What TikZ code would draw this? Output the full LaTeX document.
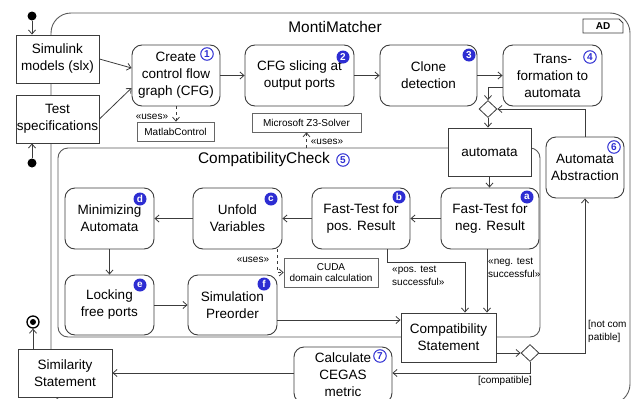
\documentclass[tikz,border=0pt]{standalone}
\usepackage{fontspec}
\setmainfont{Liberation Sans}
\usetikzlibrary{arrows.meta,calc,shapes.geometric}
\definecolor{bl}{RGB}{45,45,210}
\definecolor{ln}{RGB}{60,60,60}
\tikzset{
  mainf/.style={font=\fontsize{13.5}{17}\selectfont},
  smallf/.style={font=\fontsize{10}{13}\selectfont},
  act/.style={draw=ln, line width=0.9pt, fill=white, rounded corners=10pt, align=center, mainf, inner sep=1pt},
  obj/.style={draw=ln, line width=0.9pt, fill=white, align=center, mainf, inner sep=1pt},
  sobj/.style={draw=gray!80!black, line width=0.7pt, fill=white, align=center, smallf, inner sep=1pt},
  arr/.style={draw=ln, line width=0.8pt, -{Straight Barb[length=4pt,width=7pt]}},
  darr/.style={arr, dashed},
  bo/.style={circle, draw=bl, text=bl, line width=1pt, inner sep=0pt, minimum size=12.5pt, font=\fontsize{10}{10}\selectfont\bfseries},
  bf/.style={circle, fill=bl, text=white, inner sep=0pt, minimum size=13pt, font=\fontsize{10}{10}\selectfont\bfseries},
  dia/.style={diamond, draw=ln, line width=0.8pt, fill=white, inner sep=0pt, minimum width=18pt, minimum height=17pt},
  lbl/.style={smallf, align=left, inner sep=0pt},
}
\begin{document}
\begin{tikzpicture}[x=1pt,y=-1pt]
\useasboundingbox (0,0) rectangle (632,399);
% frames
\draw[gray!70!black, line width=0.9pt, rounded corners=20pt] (51,13) rectangle (630,404);
\draw[gray!70!black, line width=0.9pt, rounded corners=10pt] (58,148) rectangle (540,337);
\node[font=\fontsize{15.4}{18}\selectfont] (title) at (335,27) {MontiMatcher};
\node[font=\fontsize{15.4}{18}\selectfont] (ctitle) at (264,160) {CompatibilityCheck};
% AD tag
\draw[ln, line width=0.8pt] (583,19) -- (619,19) -- (623,23) -- (623,33) -- (583,33) -- cycle;
\node[font=\fontsize{10}{10}\selectfont\bfseries] (ad) at (603,26.5) {AD};

% nodes
\node[obj, minimum width=83pt, minimum height=48pt] (sim) at (57.5,59) {Simulink\\models (slx)};
\node[obj, minimum width=83pt, minimum height=48pt] (test) at (57.5,119) {Test\\specifications};
\node[act, minimum width=88pt, minimum height=61pt] (cfg) at (176,75.5) {Create\\control flow\\graph (CFG)};
\node[act, minimum width=109pt, minimum height=61pt] (slice) at (299.5,75.5) {CFG slicing at\\output ports};
\node[act, minimum width=97pt, minimum height=61pt] (clone) at (428.5,75.5) {Clone\\detection};
\node[act, minimum width=99pt, minimum height=61pt] (trans) at (552.5,75.5) {Trans-\\formation to\\automata};
\node[sobj, minimum width=77pt, minimum height=19pt] (matlab) at (175.5,131.5) {MatlabControl};
\node[sobj, minimum width=109pt, minimum height=19pt] (z3) at (306.5,122.5) {Microsoft Z3-Solver};
\node[obj, minimum width=83pt, minimum height=48pt] (auto) at (489.5,152) {automata};
\node[act, minimum width=78pt, minimum height=61pt] (abs) at (585,167.5) {Automata\\Abstraction};
\node[act, minimum width=98pt, minimum height=61pt] (neg) at (490,218.5) {Fast-Test for\\neg. Result};
\node[act, minimum width=98pt, minimum height=61pt] (pos) at (361,218.5) {Fast-Test for\\pos. Result};
\node[act, minimum width=89pt, minimum height=61pt] (unfold) at (237.5,218.5) {Unfold\\Variables};
\node[act, minimum width=89pt, minimum height=61pt] (mini) at (109.5,218.5) {Minimizing\\Automata};
\node[act, minimum width=89pt, minimum height=60pt] (lock) at (109.5,305) {Locking\\free ports};
\node[act, minimum width=89pt, minimum height=60pt] (simpre) at (232.5,305) {Simulation\\Preorder};
\node[sobj, minimum width=94pt, minimum height=29pt, font=\fontsize{10}{11.5}\selectfont] (cuda) at (331,272.5) {CUDA\\domain calculation};
\node[obj, minimum width=95pt, minimum height=49pt] (compat) at (448.5,337.5) {Compatibility\\Statement};
\node[act, minimum width=98pt, minimum height=56pt] (cegas) at (343,375) {Calculate\\CEGAS\\metric};
\node[obj, minimum width=94pt, minimum height=48pt] (simst) at (65,373) {Similarity\\Statement};
\node[dia] (d1) at (488,109) {};
\node[dia] (d2) at (530,353) {};
% initial / final
\node[circle, fill=black, inner sep=0pt, minimum size=9pt] (init1) at (32,16) {};
\node[circle, fill=black, inner sep=0pt, minimum size=9pt] (init2) at (32,163) {};
\node[circle, draw=black, line width=1.3pt, fill=white, inner sep=0pt, minimum size=12pt] (fin) at (33,322) {};
\node[circle, fill=black, inner sep=0pt, minimum size=6pt] (fincore) at (fin) {};

% badges
\node[bo] (b1) at (207,54) {1};
\node[bf] (b2) at (343,57) {2};
\node[bf] (b3) at (469,55) {3};
\node[bo] (b4) at (590,57) {4};
\node[bo] (b5) at (343,160) {5};
\node[bo] (b6) at (614,147) {6};
\node[bo] (b7) at (380,356) {7};
\node[bf] (ba) at (527,197) {a};
\node[bf] (bb) at (399,197) {b};
\node[bf] (bc) at (271,199) {c};
\node[bf] (bd) at (140,199) {d};
\node[bf] (be) at (140,285) {e};
\node[bf] (bff) at (264,284) {f};

% connectors
\draw[arr] (init1) -- (init1 |- sim.north);
\draw[arr] (init2) -- (init2 |- test.south);
\draw[arr] (sim.east) -- ($(cfg.west)+(0,-7.5)$);
\draw[arr] (test.east) -- ($(cfg.west)+(0,12.5)$);
\draw[arr] (cfg.east) -- (slice.west);
\draw[arr] (slice.east) -- (clone.west);
\draw[arr] (clone.east) -- (trans.west);
\draw[darr] (cfg.south) -- (cfg.south |- matlab.north);
\node[lbl] (u1) at (152,117) {«uses»};
\coordinate (cctop) at (306.5,148);
\draw[darr] (cctop) -- (z3.south);
\node[lbl] (u2) at (327,142) {«uses»};
\draw[arr] ($(trans.west)+(0,11.5)$) -| (d1.north);
\draw[arr] (abs.north) |- (d1.east);
\draw[arr] (d1.south) -- (d1.south |- auto.north);
\draw[arr] (auto.south) -- (auto.south |- neg.north);
\draw[arr] (neg.west) -- (pos.east);
\draw[arr] (pos.west) -- (unfold.west -| unfold.east);
\draw[arr] (unfold.west) -- (mini.east);
\draw[arr] (mini.south) -- (lock.north);
\draw[arr] (lock.east) -- (simpre.west);
\draw[darr] ($(unfold.south east)+(-5,0)$) |- (cuda.west);
\node[lbl] (u3) at (253,260) {«uses»};
\draw[arr] ($(simpre.east)+(0,15)$) -- ($(compat.west)+(0,-17.5)$);
\draw[arr] ($(pos.south east)+(-23,0)$) -- ++(0,13) -| ($(compat.north)+(16.5,0)$);
\node[lbl, anchor=west] (l1) at (392,275.5) {«pos. test\\successful»};
\draw[arr] ($(neg.south)+(-3,0)$) -- ($(compat.north)+(38.5,0)$);
\node[lbl, anchor=west] (l2) at (488,267.5) {«neg. test\\successful»};
\draw[arr] (compat.east |- d2.west) -- (d2.west);
\draw[arr] (d2.east) -| (abs.south);
\node[lbl, anchor=west] (l3) at (588,331) {[not com\\patible]};
\draw[arr] (d2.south) |- (cegas.east |- simst.east);
\node[lbl] (l4) at (505,381) {[compatible]};
\draw[arr] (cegas.west |- simst.east) -- (simst.east);
\draw[arr] (fin |- simst.north) -- (fin.south);
\end{tikzpicture}
\end{document}
